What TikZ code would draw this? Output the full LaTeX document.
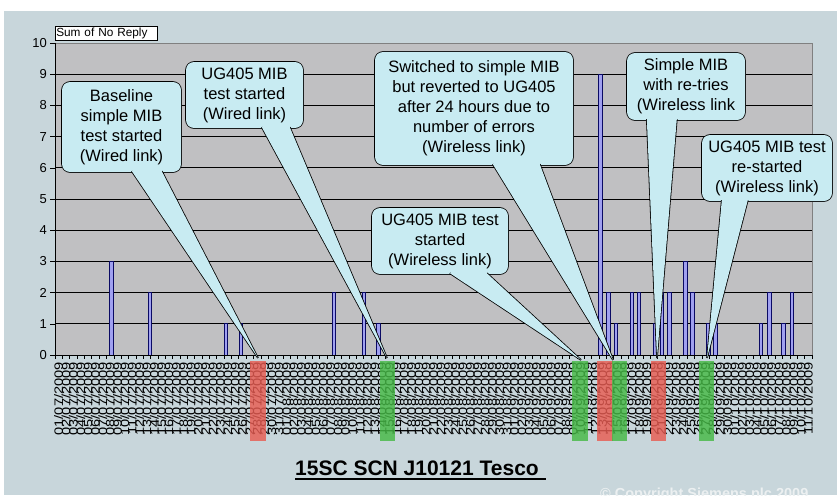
\documentclass[tikz,border=0pt]{standalone}
\usepackage{fontspec}
\setmainfont{Liberation Sans}
\usepackage{graphicx}
\usepackage{xcolor}

\definecolor{chartbg}{RGB}{200,214,219}
\definecolor{plotgray}{RGB}{192,192,194}
\definecolor{callblue}{RGB}{200,235,242}
\definecolor{barfill}{RGB}{160,160,240}
\definecolor{barline}{RGB}{10,10,100}
\definecolor{markred}{RGB}{232,92,82}
\definecolor{markgreen}{RGB}{70,185,70}
\definecolor{copywhite}{RGB}{236,240,241}

\newcommand{\twodig}[1]{\ifnum#1<10 0\fi#1}

\begin{document}
\begin{tikzpicture}[
            x = 1pt, y = -1pt, % pixel grid, y runs down
            callbox/.style = {rounded corners=8pt, fill=callblue, preaction={draw=black, line width=1.6pt},
                              inner sep=0pt, align=center, font=\fontsize{16.5}{20}\selectfont},
            callptr/.style = {fill=callblue, preaction={draw=black, line width=1.6pt}},
            datelbl/.style = {rotate=90, anchor=east, inner sep=0pt, font=\fontsize{12}{13}\selectfont},
            replybar/.style = {fill=barfill, draw=barline, line width=0.7pt},
            hilite/.style = {fill=#1, fill opacity=0.82},
            gridln/.style = {black, line width=0.8pt},
            axtick/.style = {black, line width=0.6pt}
        ]
\useasboundingbox (0,0) rectangle (837,495);
\clip (0,0) rectangle (837,495);
\fill[white] (0,0) rectangle (837,495);
\fill[chartbg] (4,11) rectangle (837,495);

% plot area
\filldraw[fill=plotgray, draw=gray] (55,43) rectangle (812,355);
\foreach \v in {1,...,9}
    \draw[gridln] (55,{355-31.2*\v}) -- (812,{355-31.2*\v});

% bars (x, value)
\foreach \x/\h in {111.5/3, 150/2, 226/1, 241/1, 334/2, 364/2, 378.5/1,
                   600.5/9, 608.5/2, 616/1, 632/2, 639/2, 655/1, 662/2, 669.5/2,
                   685.5/3, 692.5/2, 708.5/1, 715.5/1, 761/1, 769.5/2, 783.5/1, 792/2}
    \draw[replybar] (\x-1.8,355) rectangle (\x+1.8,{355-31.2*\h});

% axes
\draw[line width=0.8pt] (55,43) -- (55,355) -- (812,355);
\foreach \v in {0,...,10} {
    \draw[axtick] (50,{355-31.2*\v}) -- (55,{355-31.2*\v});
    \node[anchor=east, inner sep=0pt, font=\fontsize{13}{14}\selectfont] (ylab\v) at (47,{355-31.2*\v}) {\v};
}
\foreach \i in {0,...,103}
    \draw[axtick] ({55+7.35*\i},355) -- ({55+7.35*\i},359);

% date labels
\foreach \d in {1,...,31}
    \node[datelbl] (jul\d) at ({58.7+(\d-1)*7.35},362) {\scalebox{1.22}[1]{\twodig{\d}/07/2009}};
\foreach \d in {1,...,31}
    \node[datelbl] (aug\d) at ({58.7+(\d+30)*7.35},362) {\scalebox{1.22}[1]{\twodig{\d}/08/2009}};
\foreach \d in {1,...,30}
    \node[datelbl] (sep\d) at ({58.7+(\d+61)*7.35},362) {\scalebox{1.22}[1]{\twodig{\d}/09/2009}};
\foreach \d in {1,...,11}
    \node[datelbl] (oct\d) at ({58.7+(\d+91)*7.35},362) {\scalebox{1.22}[1]{\twodig{\d}/10/2009}};

% coloured markers on the dates
\fill[hilite=markred] (250,361) rectangle (266,441);
\fill[hilite=markgreen] (380,361) rectangle (395,441);
\fill[hilite=markgreen] (572,361) rectangle (588,441);
\fill[hilite=markred] (597,361) rectangle (613,441);
\fill[hilite=markgreen] (612,361) rectangle (627,441);
\fill[hilite=markred] (651,361) rectangle (666,441);
\fill[hilite=markgreen] (699,361) rectangle (714,441);

% legend
\node[draw=black, fill=white, line width=0.6pt, anchor=north west, text width=100pt, align=left,
      inner sep=1pt, minimum height=14pt, font=\fontsize{11.8}{12}\selectfont] (legend) at (55,26) {Sum of No Reply};

% callouts
\node[callbox, minimum width=119pt, minimum height=90pt] (baseline) at (121.5,127) {Baseline\\simple MIB\\test started\\(Wired link)};
\coordinate (baselinetip) at (258,358);
\path[callptr] ([xshift=70pt, yshift=1pt]baseline.south west) -- (baselinetip) -- ([xshift=100pt, yshift=1pt]baseline.south west);

\node[callbox, minimum width=117pt, minimum height=66pt] (ugwired) at (244.5,95) {UG405 MIB\\test started\\(Wired link)};
\coordinate (ugwiredtip) at (387,358);
\path[callptr] ([xshift=76pt, yshift=1pt]ugwired.south west) -- (ugwiredtip) -- ([xshift=104pt, yshift=1pt]ugwired.south west);

\node[callbox, minimum width=198pt, minimum height=113pt] (switched) at (474,108.5) {Switched to simple MIB\\but reverted to UG405\\after 24 hours due to\\number of errors\\(Wireless link)};
\coordinate (switchedtip) at (613,360);
\path[callptr] ([xshift=118pt, yshift=1pt]switched.south west) -- (switchedtip) -- ([xshift=165pt, yshift=1pt]switched.south west);

\node[callbox, minimum width=136pt, minimum height=66pt] (ugwireless) at (440,241) {UG405 MIB test\\started\\(Wireless link)};
\coordinate (ugwirelesstip) at (581,360);
\path[callptr] ([xshift=78pt, yshift=1pt]ugwireless.south west) -- (ugwirelesstip) -- ([xshift=115pt, yshift=1pt]ugwireless.south west);

\node[callbox, minimum width=118pt, minimum height=67pt] (retries) at (686,86.5) {Simple MIB\\with re-tries\\(Wireless link};
\coordinate (retriestip) at (657,358);
\path[callptr] ([xshift=20pt, yshift=1pt]retries.south west) -- (retriestip) -- ([xshift=50pt, yshift=1pt]retries.south west);

\node[callbox, minimum width=130pt, minimum height=66pt] (restarted) at (767,168) {UG405 MIB test\\re-started\\(Wireless link)};
\coordinate (restartedtip) at (707,358);
\path[callptr] ([xshift=20pt, yshift=1pt]restarted.south west) -- (restartedtip) -- ([xshift=46pt, yshift=1pt]restarted.south west);

% title and footer
\node[anchor=base west, inner sep=0pt, font=\bfseries\fontsize{21}{24}\selectfont] (title) at (295,475) {15SC SCN J10121 Tesco};
\draw[line width=1.4pt] ([yshift=-4pt]title.base west) -- ([yshift=-4pt, xshift=7pt]title.base east);
\node[anchor=base west, inner sep=0pt, text=copywhite, font=\bfseries\fontsize{14.5}{16}\selectfont] (copyright) at (600,498) {© Copyright Siemens plc 2009};

\end{tikzpicture}
\end{document}
